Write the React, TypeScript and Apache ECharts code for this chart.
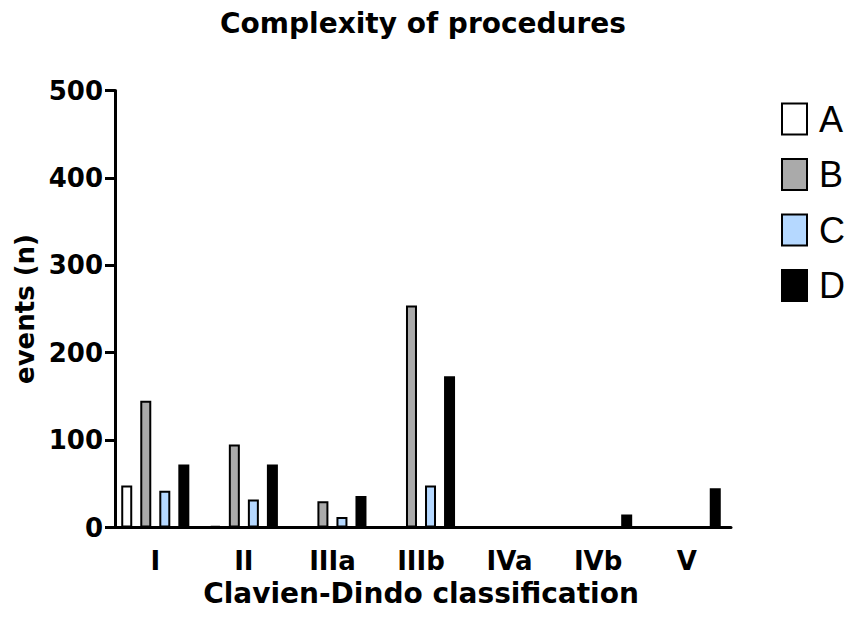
import React, { useEffect, useRef } from "react";
import * as echarts from "echarts";

const categories = ["I", "II", "IIIa", "IIIb", "IVa", "IVb", "V"];
const seriesNames = ["A", "B", "C", "D"];
const valuesA = [48, 2, 0, 0, 0, 0, 0];
const valuesB = [145, 95, 30, 254, 0, 0, 0];
const valuesC = [42, 32, 12, 48, 0, 0, 0];
const valuesD = [72, 72, 36, 173, 1, 15, 45];
const yTicks = [0, 100, 200, 300, 400, 500];

const colors = ["#ffffff", "#aaaaaa", "#b5d8ff", "#000000"];
const FONT = "DejaVu Sans";

export default function App() {
  const ref = useRef<HTMLDivElement>(null);
  useEffect(() => {
    if (!ref.current) return;
    const chart = echarts.init(ref.current, null, { renderer: "svg" });
    const allValues = [valuesA, valuesB, valuesC, valuesD];
    chart.setOption({
      animation: false,
      backgroundColor: "#ffffff",
      title: {
        text: "Complexity of procedures",
        left: "center",
        top: 9,
        padding: 0,
        textStyle: { fontFamily: FONT, fontWeight: "bold", fontSize: 28, color: "#000" },
      },
      legend: {
        orient: "vertical",
        left: 781,
        top: 101,
        padding: 0,
        itemWidth: 25,
        itemHeight: 31,
        itemGap: 19.5,
        icon: "rect",
        data: seriesNames,
        textStyle: {
          fontFamily: "Liberation Sans",
          fontSize: 36,
          color: "#000",
          padding: [0, 0, 0, 7],
        },
      },
      grid: { left: 111, right: 115, top: 90.5, bottom: 97.5, containLabel: false },
      xAxis: {
        type: "category",
        data: categories,
        name: "Clavien-Dindo classification",
        nameLocation: "middle",
        nameGap: 52,
        nameTextStyle: { fontFamily: FONT, fontWeight: "bold", fontSize: 28, color: "#000" },
        axisLine: { lineStyle: { color: "#000", width: 3 } },
        axisTick: { alignWithLabel: true, length: 12, lineStyle: { color: "#000", width: 3 } },
        axisLabel: { margin: 20, fontFamily: FONT, fontWeight: "bold", fontSize: 26, color: "#000" },
      },
      yAxis: {
        type: "value",
        min: yTicks[0],
        max: yTicks[yTicks.length - 1],
        interval: 100,
        offset: -4,
        name: "events (n)",
        nameLocation: "middle",
        nameGap: 75,
        nameTextStyle: { fontFamily: FONT, fontWeight: "bold", fontSize: 26, color: "#000" },
        axisLine: { show: true, lineStyle: { color: "#000", width: 3 } },
        axisTick: { show: true, length: 10, lineStyle: { color: "#000", width: 3 } },
        axisLabel: { margin: 12, fontFamily: FONT, fontWeight: "bold", fontSize: 26, color: "#000" },
        splitLine: { show: false },
      },
      series: seriesNames.map((name, i) => ({
        name,
        type: "bar",
        data: allValues[i],
        barWidth: 11,
        barGap: "73%",
        itemStyle: { color: colors[i], borderColor: "#000", borderWidth: 2 },
      })),
    });
    return () => chart.dispose();
  }, []);
  return (
    <div
      ref={ref}
      style={{ position: "absolute", left: 0, top: 0, width: 846, height: 625 }}
    />
  );
}
